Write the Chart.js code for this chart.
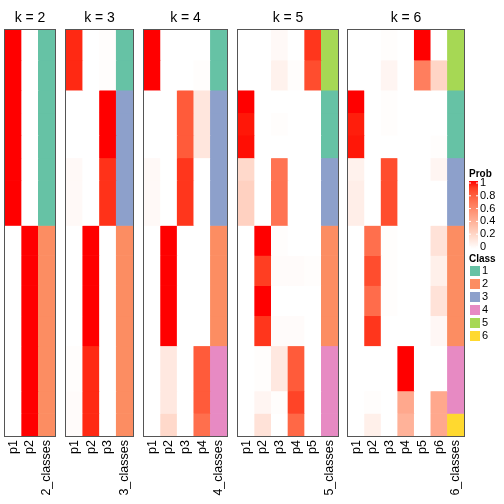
<!DOCTYPE html>
<html>
<head>
<meta charset="utf-8">
<script src="https://cdn.jsdelivr.net/npm/chart.js@4"></script>
<style>
body { margin: 0; background: #fff; width: 504px; height: 504px; position: relative; overflow: hidden; }
canvas { position: absolute; top: 0; }
</style>
</head>
<body>
<canvas id="k2"></canvas>
<canvas id="k3"></canvas>
<canvas id="k4"></canvas>
<canvas id="k5"></canvas>
<canvas id="k6"></canvas>
<script>
// number of samples in each horizontal block (top to bottom)
const segRows = [4, 4, 3, 3, 3, 3, 6, 4, 4, 4, 4, 6, 3, 3];

// membership probabilities, one array per column p1..pk, one value per block
const probK2 = [
    [1, 1, 1, 1, 1, 1, 1, 0, 0, 0, 0, 0, 0, 0],
    [0, 0, 0, 0, 0, 0, 0, 1, 1, 1, 1, 1, 1, 1]
];
const classK2 = [1, 1, 1, 1, 1, 1, 1, 2, 2, 2, 2, 2, 2, 2];

const probK3 = [
    [0.95, 0.95, 0, 0, 0, 0.03, 0.03, 0, 0, 0, 0, 0.01, 0.02, 0.02],
    [0, 0, 0, 0, 0, 0, 0, 1, 1, 1, 1, 0.95, 0.95, 0.95],
    [0.01, 0.01, 1, 1, 1, 0.93, 0.93, 0, 0, 0, 0, 0, 0, 0]
];
const classK3 = [1, 1, 3, 3, 3, 3, 3, 2, 2, 2, 2, 2, 2, 2];

const probK4 = [
    [1, 1, 0, 0, 0, 0.03, 0.03, 0, 0, 0, 0, 0, 0, 0],
    [0, 0, 0, 0, 0, 0, 0, 1, 1, 1, 1, 0.12, 0.12, 0.2],
    [0, 0, 0.8, 0.8, 0.8, 0.92, 0.92, 0, 0, 0, 0, 0, 0, 0],
    [0, 0.01, 0.13, 0.13, 0.13, 0, 0, 0, 0, 0, 0, 0.8, 0.8, 0.72]
];
const classK4 = [1, 1, 3, 3, 3, 3, 3, 2, 2, 2, 2, 4, 4, 4];

const probK5 = [
    [0, 0, 1, 0.98, 0.99, 0.2, 0.24, 0, 0, 0, 0, 0, 0, 0],
    [0, 0, 0, 0, 0, 0, 0, 1, 0.9, 1, 0.92, 0.01, 0.05, 0.15],
    [0.03, 0.07, 0, 0.01, 0, 0.7, 0.7, 0.01, 0.02, 0, 0.02, 0.12, 0.01, 0],
    [0, 0.01, 0, 0, 0, 0, 0, 0, 0.02, 0, 0.02, 0.8, 0.88, 0.75],
    [0.92, 0.85, 0, 0, 0, 0, 0, 0, 0.01, 0, 0, 0, 0, 0]
];
const classK5 = [5, 5, 1, 1, 1, 3, 3, 2, 2, 2, 2, 4, 4, 4];

const probK6 = [
    [0, 0, 1, 0.97, 0.98, 0.07, 0.09, 0, 0, 0, 0, 0, 0, 0],
    [0, 0, 0, 0, 0, 0, 0, 0.72, 0.85, 0.73, 0.92, 0, 0.01, 0.08],
    [0.01, 0.05, 0.01, 0.01, 0, 0.85, 0.85, 0.01, 0.01, 0.01, 0, 0, 0, 0],
    [0, 0, 0, 0, 0, 0, 0, 0, 0, 0, 0, 1, 0.45, 0.4],
    [1, 0.65, 0, 0, 0, 0, 0, 0, 0, 0, 0, 0, 0, 0],
    [0, 0.22, 0, 0, 0.01, 0.05, 0, 0.15, 0.08, 0.15, 0.04, 0, 0.45, 0.45]
];
const classK6 = [5, 5, 1, 1, 1, 3, 3, 2, 2, 2, 2, 4, 4, 6];

const classColors = ['#66C2A5', '#FC8D62', '#8DA0CB', '#E78AC3', '#A6D854', '#FFD92F'];
const probTicks = [1, 0.8, 0.6, 0.4, 0.2, 0];

const FONT = '"Liberation Sans", Arial, Helvetica, sans-serif';

// white -> red ramp interpolated in LAB space
function toLin(c) { c /= 255; return c <= 0.04045 ? c / 12.92 : Math.pow((c + 0.055) / 1.055, 2.4); }
function fromLin(c) { c = c <= 0.0031308 ? 12.92 * c : 1.055 * Math.pow(c, 1 / 2.4) - 0.055; return Math.max(0, Math.min(255, Math.round(c * 255))); }
function rgb2lab(rgb) {
    var r = toLin(rgb[0]), g = toLin(rgb[1]), b = toLin(rgb[2]);
    var x = (0.4124 * r + 0.3576 * g + 0.1805 * b) / 0.95047;
    var y = 0.2126 * r + 0.7152 * g + 0.0722 * b;
    var z = (0.0193 * r + 0.1192 * g + 0.9505 * b) / 1.08883;
    var f = function (t) { return t > 0.008856 ? Math.cbrt(t) : 7.787 * t + 16 / 116; };
    var fx = f(x), fy = f(y), fz = f(z);
    return [116 * fy - 16, 500 * (fx - fy), 200 * (fy - fz)];
}
function lab2rgb(lab) {
    var fy = (lab[0] + 16) / 116, fx = fy + lab[1] / 500, fz = fy - lab[2] / 200;
    var inv = function (t) { return t * t * t > 0.008856 ? t * t * t : (t - 16 / 116) / 7.787; };
    var x = inv(fx) * 0.95047, y = inv(fy), z = inv(fz) * 1.08883;
    var r = 3.2406 * x - 1.5372 * y - 0.4986 * z;
    var g = -0.9689 * x + 1.8758 * y + 0.0415 * z;
    var b = 0.0557 * x - 0.2040 * y + 1.0570 * z;
    return [fromLin(r), fromLin(g), fromLin(b)];
}
var labWhite = rgb2lab([255, 255, 255]), labRed = rgb2lab([255, 0, 0]);
function probColor(p) {
    var l = [0, 1, 2].map(function (i) { return labWhite[i] + (labRed[i] - labWhite[i]) * p; });
    var c = lab2rgb(l);
    return 'rgb(' + c[0] + ',' + c[1] + ',' + c[2] + ')';
}

// frame around each heatmap body
var framePlugin = {
    id: 'frame',
    afterDatasetsDraw: function (chart) {
        var a = chart.chartArea, ctx = chart.ctx;
        ctx.save();
        ctx.strokeStyle = '#555';
        ctx.lineWidth = 1;
        ctx.strokeRect(a.left - 0.5, a.top - 0.5, a.right - a.left + 1, a.bottom - a.top + 1);
        ctx.restore();
    }
};

// Prob / Class legends to the right of the last panel
var legendPlugin = {
    id: 'sideLegend',
    afterDraw: function (chart) {
        var ctx = chart.ctx, ox = chart.canvas.offsetLeft;
        ctx.save();
        var x = 469 - ox;
        ctx.fillStyle = '#000';
        ctx.textBaseline = 'alphabetic';
        ctx.font = 'bold 10px ' + FONT;
        ctx.fillText('Prob', x, 177);
        var top = 181, bot = 249;
        var grad = ctx.createLinearGradient(0, top, 0, bot);
        for (var i = 0; i <= 10; i++) grad.addColorStop(i / 10, probColor(1 - i / 10));
        ctx.fillStyle = grad;
        ctx.fillRect(x, top, 9, bot - top);
        ctx.font = '11px ' + FONT;
        ctx.textBaseline = 'middle';
        probTicks.forEach(function (v, i) {
            var y = 183 + i * 12.8;
            ctx.strokeStyle = '#fff';
            ctx.beginPath();
            ctx.moveTo(x, y); ctx.lineTo(x + 2, y);
            ctx.moveTo(x + 7, y); ctx.lineTo(x + 9, y);
            ctx.stroke();
            ctx.fillStyle = '#000';
            ctx.fillText(String(v), x + 11, y);
        });
        ctx.textBaseline = 'alphabetic';
        ctx.font = 'bold 10px ' + FONT;
        ctx.fillText('Class', x, 262);
        ctx.font = '11px ' + FONT;
        ctx.textBaseline = 'middle';
        classColors.forEach(function (c, i) {
            var y = 266 + i * 13;
            ctx.fillStyle = c;
            ctx.fillRect(x + 1, y, 10, 10);
            ctx.fillStyle = '#000';
            ctx.fillText(String(i + 1), x + 13, y + 5);
        });
        ctx.restore();
    }
};

function makePanel(id, left, width, k, prob, cls, padRight, extra) {
    var canvas = document.getElementById(id);
    canvas.width = width + 1 + padRight;
    canvas.height = 504;
    canvas.style.left = (left - 1) + 'px';
    var labels = [];
    for (var i = 1; i <= k; i++) labels.push('p' + i);
    labels.push(k + '_classes');
    var datasets = segRows.map(function (n, s) {
        return {
            data: labels.map(function () { return n; }),
            backgroundColor: labels.map(function (_, c) {
                return c < k ? probColor(prob[c][s]) : classColors[cls[s] - 1];
            }),
            borderWidth: 0,
            barPercentage: 1,
            categoryPercentage: 1
        };
    });
    return new Chart(canvas.getContext('2d'), {
        type: 'bar',
        data: { labels: labels, datasets: datasets },
        options: {
            responsive: false,
            animation: false,
            layout: { padding: { left: 1, right: padRight, top: 0, bottom: 0 } },
            plugins: {
                legend: { display: false },
                tooltip: { enabled: false },
                title: {
                    display: true,
                    text: 'k = ' + k,
                    fullSize: false,
                    color: '#000',
                    font: { family: FONT, size: 14, weight: 'normal' },
                    padding: { top: 9.5, bottom: 3.7 }
                }
            },
            scales: {
                x: {
                    stacked: true,
                    grid: { display: false, drawTicks: false },
                    border: { display: false },
                    ticks: {
                        minRotation: 90, maxRotation: 90, autoSkip: false, padding: 4,
                        color: '#000', font: { family: FONT, size: 12.5 }
                    },
                    afterFit: function (s) { s.height = 68; s.paddingLeft = 0; s.paddingRight = 0; }
                },
                y: { display: false, stacked: true, reverse: true, min: 0, max: 54 }
            }
        },
        plugins: [framePlugin].concat(extra || [])
    });
}

makePanel('k2', 5, 50, 2, probK2, classK2, 1);
makePanel('k3', 66, 67, 3, probK3, classK3, 1);
makePanel('k4', 144, 83, 4, probK4, classK4, 1);
makePanel('k5', 238, 100, 5, probK5, classK5, 1);
makePanel('k6', 348, 116, 6, probK6, classK6, 40, [legendPlugin]);
</script>
</body>
</html>
